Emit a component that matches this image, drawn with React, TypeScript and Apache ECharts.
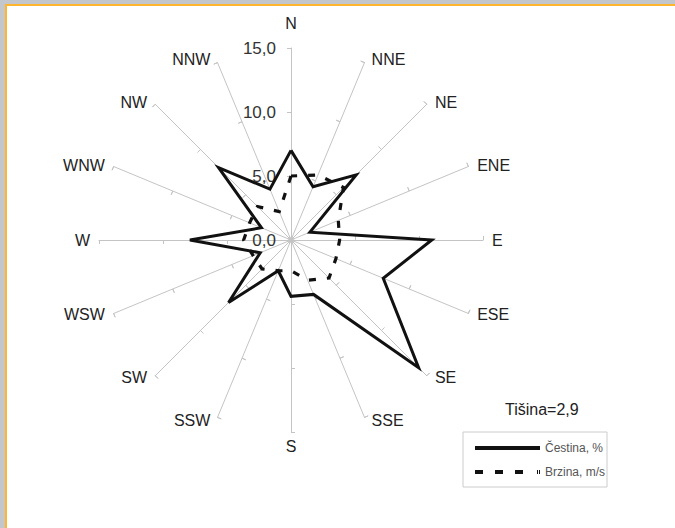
import React, { useEffect, useRef } from 'react';
import * as echarts from 'echarts';

const DIRECTIONS = ['N', 'NNE', 'NE', 'ENE', 'E', 'ESE', 'SE', 'SSE', 'S', 'SSW', 'SW', 'WSW', 'W', 'WNW', 'NW', 'NNW'];
const CESTINA = [7.0, 4.5, 7.2, 1.6, 11.0, 7.8, 14.1, 4.6, 4.4, 2.6, 6.9, 2.6, 7.9, 2.5, 8.0, 4.3];
const BRZINA = [5.0, 5.5, 5.8, 4.0, 3.8, 3.8, 4.2, 3.4, 2.4, 2.6, 3.2, 3.2, 3.7, 3.5, 3.7, 2.4];
const AXIS_MAX = 15;
const AXIS_SPLITS = 3;
const SERIES_NAMES = ['Čestina, %', 'Brzina, m/s'];
const CALM_TEXT = 'Tišina=2,9';

const FONT = "'Liberation Sans', Arial, sans-serif";

// ECharts radar runs counter-clockwise; reorder so compass goes clockwise.
const ORDER = DIRECTIONS.map((_, i) => (i === 0 ? 0 : DIRECTIONS.length - i));
const reorder = (arr: any[]) => ORDER.map((i) => arr[i]);

export default function App() {
  const ref = useRef<HTMLDivElement>(null);
  useEffect(() => {
    if (!ref.current) return;
    const chart = echarts.init(ref.current, undefined, { renderer: 'svg' });
    const indicator = reorder(DIRECTIONS).map((name: string, i: number) => ({
      name,
      min: 0,
      max: AXIS_MAX,
      ...(i === 0 ? { axisLabel: { show: true } } : {}),
    }));
    const indicatorPlain = reorder(DIRECTIONS).map((name: string) => ({ name, min: 0, max: AXIS_MAX }));
    const common = {
      center: [291, 240],
      radius: 192,
      startAngle: 90,
      splitNumber: AXIS_SPLITS,
      shape: 'polygon',
      splitLine: { show: false },
      splitArea: { show: false },
    };
    const solidIcon = 'path://M0,0H65V4H0Z';
    const dashIcon = 'path://M0,0H8V4H0Z M20,0H28V4H20Z M40,0H48V4H40Z M62,0H63V4H62Z M64,0H65V4H64Z';
    chart.setOption({
      animation: false,
      backgroundColor: 'transparent',
      graphic: [
        {
          type: 'rect',
          z: -10,
          shape: { x: 6, y: 5, width: 700, height: 560 },
          style: { fill: '#ffffff', stroke: '#ffb52e', lineWidth: 2 },
        },
      ],
      title: {
        text: CALM_TEXT,
        left: 500,
        top: 396,
        textStyle: { fontFamily: FONT, fontSize: 16, fontWeight: 'normal', color: '#222' },
      },
      legend: {
        orient: 'vertical',
        left: 463,
        top: 432,
        padding: [9, 2, 8, 12],
        itemGap: 10,
        itemWidth: 65,
        itemHeight: 4,
        itemTextGap: 1,
        borderColor: '#cccccc',
        borderWidth: 1,
        backgroundColor: '#fff',
        selectedMode: false,
        textStyle: { fontFamily: FONT, fontSize: 12, color: '#555', lineHeight: 14 },
        itemStyle: { borderWidth: 0 },
        lineStyle: { width: 0 },
        data: [
          { name: SERIES_NAMES[0], icon: solidIcon },
          { name: SERIES_NAMES[1], icon: dashIcon },
        ],
      },
      radar: [
        {
          ...common,
          indicator,
          nameGap: 3,
          axisName: {
            color: '#222',
            fontFamily: FONT,
            fontSize: 16,
            padding: [3, 6, 3, 6],
            formatter: (name: string) => (name === 'N' ? '{n|N}' : name),
            rich: { n: { fontFamily: FONT, fontSize: 16, color: '#222', padding: [0, 0, 11, 0] } },
          },
          axisLine: { show: true, lineStyle: { color: '#c4c4c4', width: 1 } },
          axisTick: { show: true, length: 4, lineStyle: { color: '#c4c4c4', width: 1 } },
          axisLabel: {
            show: false,
            margin: 15,
            color: '#333',
            fontFamily: FONT,
            fontSize: 17,
            formatter: (v: number) => v.toFixed(1).replace('.', ','),
          },
        },
        {
          ...common,
          indicator: indicatorPlain,
          axisName: { show: false },
          axisLine: { show: false },
          axisTick: { show: true, inside: true, length: 4, lineStyle: { color: '#c4c4c4', width: 1 } },
          axisLabel: { show: false },
        },
      ],
      series: [
        {
          type: 'radar',
          radarIndex: 0,
          name: SERIES_NAMES[1],
          symbol: 'none',
          color: '#111',
          lineStyle: { color: '#111', width: 3.2, type: [7, 11], join: 'miter' },
          data: [{ value: reorder(BRZINA), name: SERIES_NAMES[1] }],
          z: 3,
        },
        {
          type: 'radar',
          radarIndex: 0,
          name: SERIES_NAMES[0],
          symbol: 'none',
          color: '#111',
          lineStyle: { color: '#111', width: 3, type: 'solid', join: 'miter' },
          data: [{ value: reorder(CESTINA), name: SERIES_NAMES[0] }],
          z: 4,
        },
      ],
    });
    return () => chart.dispose();
  }, []);
  return (
    <div
      style={{ position: 'fixed', left: 0, top: 0, width: 675, height: 528, background: '#c3c7cb' }}
    >
      <div ref={ref} style={{ width: 675, height: 528 }} />
    </div>
  );
}
